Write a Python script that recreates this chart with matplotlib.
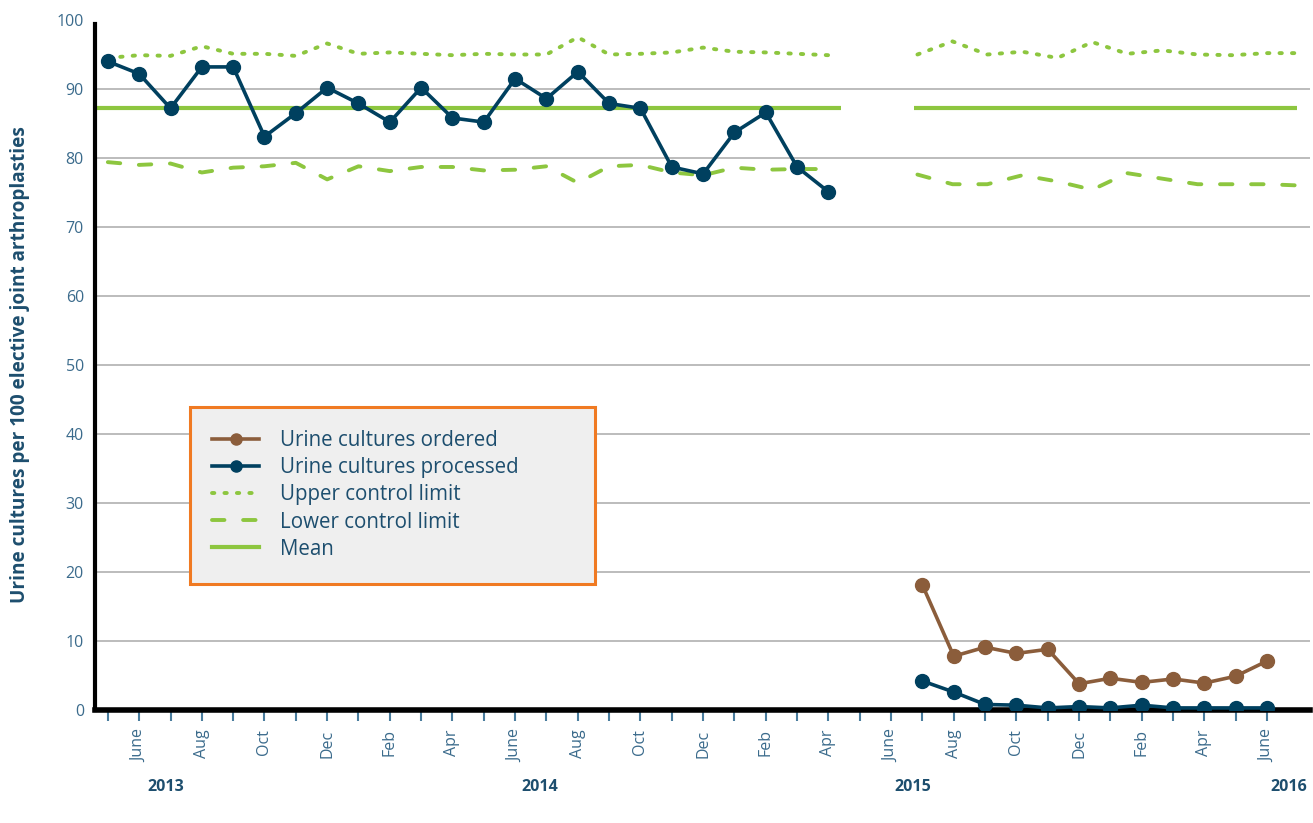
import matplotlib
matplotlib.use("Agg")
import matplotlib.pyplot as plt
from matplotlib.patches import Rectangle
from matplotlib.lines import Line2D

plt.rcParams['font.family'] = ['Open Sans', 'DejaVu Sans']

# months: index 0 = May 2013 ... index 37 = June 2016
month_names = ['May', 'June', 'July', 'Aug', 'Sep', 'Oct', 'Nov', 'Dec', 'Jan', 'Feb', 'Mar', 'Apr']
n_months = 38

# before period (May 2013 - Apr 2015)
processed_1 = [94.0, 92.2, 87.2, 93.2, 93.2, 83.1, 86.5, 90.2, 87.9, 85.2, 90.2, 85.8,
               85.2, 91.5, 88.6, 92.5, 87.9, 87.2, 78.7, 77.7, 83.7, 86.6, 78.7, 75.1]
ucl_1 = [94.5, 94.9, 94.8, 96.2, 95.1, 95.1, 94.8, 96.6, 95.1, 95.3, 95.1, 94.9,
         95.1, 95.0, 95.0, 97.5, 95.0, 95.1, 95.3, 96.0, 95.4, 95.3, 95.1, 94.9]
lcl_1 = [79.4, 79.0, 79.2, 77.9, 78.6, 78.8, 79.3, 76.9, 78.8, 78.1, 78.7, 78.7,
         78.2, 78.3, 78.8, 76.4, 78.8, 79.0, 77.9, 77.5, 78.6, 78.3, 78.4, 78.4]

# after period (July 2015 - June 2016)
ordered_2 = [18.1, 7.8, 9.1, 8.2, 8.8, 3.8, 4.6, 4.0, 4.5, 3.9, 4.9, 7.1]
processed_2 = [4.2, 2.6, 0.8, 0.7, 0.3, 0.5, 0.3, 0.7, 0.3, 0.3, 0.3, 0.3]
limits_x2 = [25.84, 26.96, 28.07, 29.19, 30.31, 31.42, 32.54, 33.66, 34.78, 35.89, 37.01, 38.12]
ucl_2 = [95.0, 96.9, 95.0, 95.4, 94.5, 96.8, 95.1, 95.6, 95.0, 94.9, 95.2, 95.2]
lcl_2 = [77.6, 76.2, 76.2, 77.5, 76.6, 75.4, 77.8, 77.0, 76.2, 76.2, 76.2, 76.0]

mean_value = 87.2
mean_spans = [(-0.38, 23.4), (25.74, 37.96)]

years = ['2013', '2014', '2015', '2016']
year_pos = [1.85, 13.8, 25.7, 37.7]

navy = '#00405f'
brown = '#8b5d3b'
green = '#8dc63f'
text_blue = '#3b6b8c'
dark_blue = '#1d4e6e'

x1 = list(range(0, 24))
x2 = list(range(26, 38))

fig = plt.figure(figsize=(13.13, 8.23), dpi=100)
# 0 at y=710px, 100 at y=20px
ax = fig.add_axes([95 / 1313, 1 - 710 / 823, 1215 / 1313, 690 / 823])

for v in range(10, 100, 10):
    ax.axhline(v, color='#aaaaaa', lw=1.1, zorder=0)

for a, b in mean_spans:
    ax.plot([a, b], [mean_value, mean_value], color=green, lw=3.0, solid_capstyle='butt', zorder=2)

dot = (0, (0.6, 2.6))
dash = (0, (3.2, 4.8))
ax.plot(x1, ucl_1, color=green, lw=2.8, ls=dot, dash_capstyle='round', zorder=2)
ax.plot(limits_x2, ucl_2, color=green, lw=2.8, ls=dot, dash_capstyle='round', zorder=2)
ax.plot(x1, lcl_1, color=green, lw=2.8, ls=dash, dash_capstyle='round', zorder=2)
ax.plot(limits_x2, lcl_2, color=green, lw=2.8, ls=dash, dash_capstyle='round', zorder=2)

ax.plot(x2, ordered_2, color=brown, lw=2.6, marker='o', ms=10, zorder=3)
ax.plot(x1, processed_1, color=navy, lw=2.6, marker='o', ms=10, zorder=4)
ax.plot(x2, processed_2, color=navy, lw=2.6, marker='o', ms=10, zorder=4)

ax.set_xlim(-0.41, 38.37)
ax.set_ylim(0, 100)

for s in ['top', 'right']:
    ax.spines[s].set_visible(False)
ax.spines['left'].set_linewidth(3)
ax.spines['left'].set_bounds(0, 99.4)
ax.spines['bottom'].set_linewidth(4)
ax.spines['left'].set_color('black')
ax.spines['bottom'].set_color('black')

ax.set_yticks(range(0, 101, 10))
ax.tick_params(axis='y', length=0, pad=8, labelsize=11.5, labelcolor=text_blue)

xlabels = []
for i in range(n_months):
    name = month_names[i % 12]
    xlabels.append(name if i % 2 == 1 else '')
ax.set_xticks(range(n_months))
ax.set_xticklabels(xlabels, rotation=90, fontsize=11.5, color=text_blue)
ax.tick_params(axis='x', length=8, width=1.5, color='#4a7d9e', pad=6)

for yr, p in zip(years, year_pos):
    ax.text(p, -0.112, yr, transform=ax.get_xaxis_transform(), ha='center', va='center',
            fontsize=11.5, fontweight='bold', color=dark_blue)

fig.text(20 / 1313, 1 - 365 / 823, 'Urine cultures per 100 elective joint arthroplasties',
         rotation=90, ha='center', va='center', fontsize=13.7, fontweight='bold', color=dark_blue)

# legend box
fig.patches.append(Rectangle((190 / 1313, 1 - 584 / 823), 405 / 1313, 177 / 823,
                             transform=fig.transFigure, facecolor='#efefef',
                             edgecolor='#f07a22', lw=2.2, zorder=5))
handles = [
    Line2D([], [], color=brown, lw=2.6, marker='o', ms=8),
    Line2D([], [], color=navy, lw=2.6, marker='o', ms=8),
    Line2D([], [], color=green, lw=2.8, ls=dot, dash_capstyle='round'),
    Line2D([], [], color=green, lw=2.8, ls=dash, dash_capstyle='round'),
    Line2D([], [], color=green, lw=3.0),
]
labels = ['Urine cultures ordered', 'Urine cultures processed', 'Upper control limit',
          'Lower control limit', 'Mean']
leg = fig.legend(handles, labels, loc='upper left', bbox_to_anchor=(212 / 1313, 1 - 430 / 823),
                 frameon=False, fontsize=14.8, handlelength=2.3, handletextpad=1.0,
                 labelspacing=0.3, borderpad=0, borderaxespad=0, numpoints=1)
leg.set_zorder(6)
for t in leg.get_texts():
    t.set_color(dark_blue)

fig.savefig('out.png', dpi=100)
